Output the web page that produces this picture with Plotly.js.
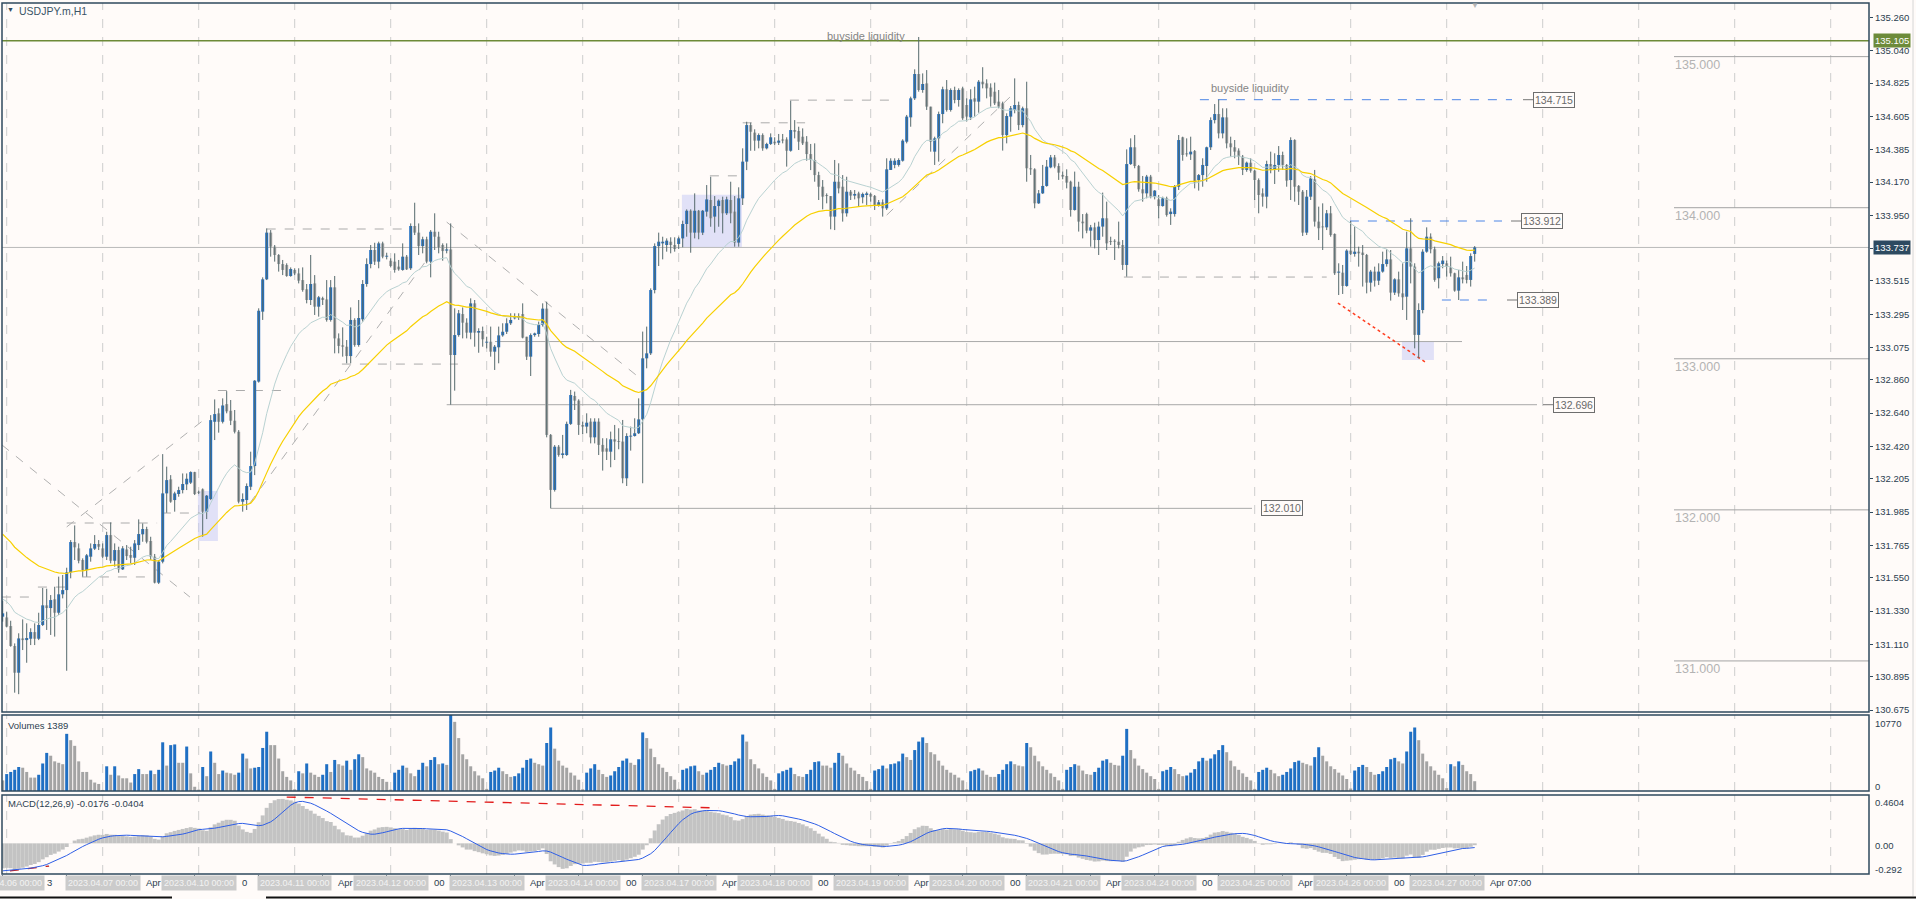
<!DOCTYPE html>
<html><head><meta charset="utf-8">
<script src="https://cdn.plot.ly/plotly-3.0.1.min.js"></script>
<style>html,body{margin:0;padding:0;background:#fffbf9;overflow:hidden}#chart{width:1916px;height:899px}</style>
</head><body><div id="chart"></div>
<script>
// ---------- DATA (USDJPY.m H1) ----------
const opens = [
131.293,131.288,131.231,131.099,130.922,131.149,131.138,131.147,131.191,131.147,131.238,131.368,
131.350,131.408,131.319,131.441,131.469,131.586,131.787,131.745,131.668,131.602,131.690,131.743,
131.774,131.745,131.690,131.833,131.663,131.734,131.606,131.738,131.701,131.683,131.767,131.838,
131.873,131.794,131.690,131.518,131.657,132.109,132.202,132.065,132.105,132.131,132.169,132.180,
132.250,132.118,132.136,131.988,132.072,132.583,132.639,132.583,132.700,132.656,132.590,132.517,
132.054,132.065,132.153,132.290,132.849,133.312,133.526,133.835,133.742,133.687,133.627,133.621,
133.548,133.588,133.565,133.521,133.460,133.389,133.499,133.345,133.402,133.393,133.257,133.473,
133.135,133.089,133.080,133.018,133.257,133.091,133.261,133.495,133.627,133.720,133.643,133.764,
133.676,133.649,133.643,133.610,133.588,133.676,133.599,133.879,133.835,133.746,133.791,133.643,
133.841,133.808,133.753,133.716,133.724,133.025,133.157,133.296,133.239,133.173,133.367,133.173,
133.184,133.107,133.113,133.047,133.076,133.155,133.179,133.235,133.268,133.272,133.296,133.146,
133.014,133.157,133.164,133.224,133.332,132.496,132.132,132.418,132.363,132.363,132.569,132.754,
132.723,132.562,132.551,132.584,132.480,132.584,132.430,132.407,132.385,132.467,132.452,132.452,
132.209,132.485,132.489,132.507,132.599,133.003,133.036,133.455,133.746,133.764,133.753,133.775,
133.753,133.760,133.797,133.892,133.980,133.835,133.980,133.835,133.974,134.051,133.941,134.011,
134.051,133.963,134.051,133.974,133.769,134.062,134.305,134.547,134.497,134.444,134.481,134.393,
134.422,134.437,134.430,134.452,134.452,134.377,134.514,134.508,134.470,134.437,134.355,134.316,
134.216,134.139,134.084,134.077,133.941,134.172,134.139,133.963,134.106,134.080,134.095,134.069,
134.084,134.091,134.078,134.018,134.036,133.996,134.250,134.283,134.283,134.311,134.437,134.598,
134.724,134.885,134.779,134.823,134.669,134.371,134.459,134.620,134.784,134.647,134.779,134.713,
134.790,134.680,134.598,134.724,134.702,134.834,134.823,134.795,134.768,134.702,134.691,134.481,
134.603,134.647,134.680,134.547,134.658,134.261,134.254,134.029,134.095,134.144,134.267,134.333,
134.276,134.217,134.210,134.172,133.985,134.139,133.908,133.958,133.848,133.870,133.786,133.875,
133.930,133.775,133.778,133.775,133.753,133.621,134.289,134.400,134.276,134.122,134.095,134.206,
134.073,134.055,134.011,134.062,133.958,133.958,134.139,134.466,134.360,134.353,134.375,134.183,
134.216,134.276,134.400,134.580,134.620,134.492,134.598,134.426,134.400,134.378,134.338,134.250,
134.298,134.245,134.183,134.095,134.073,134.289,134.250,134.283,134.349,134.283,134.183,134.448,
134.144,134.106,133.835,134.073,134.188,133.908,133.875,133.870,133.963,133.826,133.570,133.570,
133.482,133.716,133.694,133.709,133.703,133.687,133.504,133.577,133.517,133.577,133.627,133.658,
133.438,133.526,133.433,133.411,133.731,133.610,133.158,133.323,133.709,133.808,133.725,133.533,
133.627,133.632,133.605,133.566,133.451,133.539,133.555,133.522,133.694];
const highs = [
131.399,131.326,131.266,131.116,131.183,131.275,131.249,131.216,131.249,131.319,131.483,131.478,
131.436,131.491,131.558,131.569,131.617,131.800,131.897,131.778,131.679,131.708,131.778,131.833,
131.800,131.778,131.855,131.917,131.778,131.756,131.760,131.767,131.756,131.800,131.937,131.910,
131.888,131.822,131.708,131.668,132.369,132.286,132.230,132.120,132.153,132.241,132.241,132.255,
132.252,132.127,132.142,132.098,132.627,132.731,132.672,132.738,132.786,132.727,132.661,132.528,
132.109,132.175,132.385,132.859,133.334,133.539,133.863,133.852,133.753,133.693,133.654,133.632,
133.605,133.599,133.599,133.605,133.495,133.687,133.554,133.416,133.411,133.521,133.521,133.548,
133.168,133.208,133.124,133.340,133.268,133.389,133.521,133.665,133.753,133.768,133.775,133.775,
133.702,133.665,133.698,133.654,133.764,133.687,133.896,134.033,133.896,133.808,133.808,133.852,
133.963,133.841,133.764,133.764,133.896,133.334,133.323,133.340,133.268,133.400,133.389,133.202,
133.213,133.146,133.213,133.091,133.213,133.235,133.268,133.301,133.301,133.301,133.367,133.146,
133.168,133.173,133.246,133.367,133.378,132.502,132.429,132.429,132.496,132.584,132.794,132.783,
132.732,132.584,132.639,132.606,132.606,132.606,132.474,132.474,132.518,132.562,132.540,132.595,
132.507,132.551,132.606,132.738,133.180,133.213,133.466,133.764,133.835,133.808,133.797,133.804,
133.804,133.808,133.914,133.989,133.989,134.095,133.985,133.985,134.150,134.205,134.077,134.055,
134.073,134.073,134.172,134.077,134.135,134.393,134.569,134.563,134.519,134.492,134.492,134.430,
134.492,134.466,134.488,134.488,134.466,134.708,134.580,134.536,134.525,134.474,134.422,134.426,
134.238,134.183,134.095,134.077,134.316,134.294,134.216,134.205,134.117,134.117,134.106,134.100,
134.106,134.100,134.084,134.051,134.055,134.327,134.327,134.327,134.327,134.453,134.614,134.735,
134.916,135.130,134.889,134.911,134.669,134.470,134.636,134.801,134.845,134.790,134.801,134.790,
134.801,134.724,134.784,134.801,134.845,134.930,134.850,134.823,134.828,134.779,134.702,134.625,
134.673,134.856,134.702,134.669,134.834,134.349,134.261,134.117,134.283,134.316,134.349,134.349,
134.294,134.239,134.254,134.179,134.239,134.172,133.958,133.967,133.886,133.901,133.908,134.100,
134.040,133.808,133.791,133.908,133.786,134.386,134.459,134.481,134.283,134.210,134.217,134.217,
134.117,134.084,134.073,134.073,133.996,134.150,134.481,134.470,134.459,134.470,134.382,134.223,
134.327,134.404,134.598,134.686,134.715,134.658,134.658,134.470,134.448,134.393,134.349,134.305,
134.327,134.250,134.194,134.128,134.311,134.371,134.360,134.408,134.371,134.289,134.466,134.453,
134.150,134.117,134.117,134.210,134.250,134.007,134.029,133.985,134.011,133.830,133.632,133.621,
133.725,133.912,133.875,133.742,133.753,133.694,133.588,133.610,133.632,133.709,133.725,133.720,
133.533,133.577,133.632,133.841,133.930,133.632,133.367,133.725,133.870,133.830,133.742,133.643,
133.680,133.650,133.676,133.570,133.588,133.643,133.614,133.698,133.746];
const lows = [
131.260,131.222,131.094,130.790,130.780,131.072,130.988,131.105,131.105,131.138,131.231,131.205,
131.172,131.161,131.304,131.414,130.935,131.547,131.668,131.646,131.558,131.558,131.657,131.734,
131.734,131.679,131.668,131.646,131.624,131.584,131.602,131.668,131.646,131.635,131.734,131.789,
131.778,131.668,131.513,131.509,131.646,131.981,132.047,131.988,132.087,132.109,132.131,132.171,
132.098,132.105,131.822,131.939,132.065,132.462,132.511,132.572,132.639,132.561,132.506,132.043,
131.988,131.999,132.131,132.230,132.842,133.257,133.521,133.676,133.643,133.577,133.554,133.543,
133.543,133.554,133.499,133.444,133.367,133.356,133.290,133.279,133.356,133.246,133.246,133.036,
133.036,133.014,132.970,132.970,133.080,133.080,133.246,133.477,133.599,133.621,133.599,133.665,
133.658,133.605,133.570,133.583,133.583,133.588,133.588,133.819,133.687,133.698,133.632,133.539,
133.720,133.698,133.649,133.698,132.696,132.789,133.146,133.135,133.135,133.129,133.080,133.040,
133.080,133.069,133.014,132.926,132.970,133.146,133.164,133.224,133.261,133.257,133.135,132.992,
132.886,133.146,133.146,133.213,132.480,132.010,132.121,132.352,132.341,132.357,132.562,132.661,
132.496,132.502,132.507,132.440,132.440,132.363,132.260,132.330,132.282,132.330,132.401,132.176,
132.158,132.392,132.485,132.502,132.176,132.937,133.025,133.433,133.614,133.658,133.709,133.698,
133.709,133.727,133.738,133.808,133.702,133.797,133.791,133.819,133.941,133.874,133.835,133.874,
133.830,133.952,133.897,133.742,133.742,134.018,134.249,134.377,134.377,134.393,134.377,134.386,
134.415,134.415,134.415,134.426,134.272,134.371,134.459,134.382,134.415,134.311,134.249,134.172,
134.051,133.989,134.029,133.857,133.852,134.095,133.908,133.941,134.051,134.055,134.011,134.029,
134.018,134.040,133.985,134.007,133.941,133.985,134.250,134.261,134.272,134.305,134.426,134.536,
134.713,134.768,134.761,134.647,134.371,134.283,134.305,134.559,134.636,134.636,134.691,134.669,
134.581,134.570,134.581,134.603,134.629,134.790,134.724,134.669,134.680,134.658,134.378,134.426,
134.503,134.625,134.514,134.532,134.172,134.217,133.996,134.025,134.091,134.139,134.261,134.261,
134.184,134.188,134.128,133.941,133.981,133.842,133.797,133.831,133.742,133.731,133.687,133.808,
133.720,133.753,133.654,133.731,133.588,133.544,134.283,134.261,134.106,134.040,134.062,134.062,
134.055,133.930,134.007,133.941,133.886,133.941,134.117,134.311,134.338,134.316,134.128,134.113,
134.139,134.172,134.382,134.558,134.459,134.459,134.393,134.338,134.327,134.283,134.216,134.238,
134.232,134.051,133.963,134.007,133.996,134.228,134.157,134.238,134.250,134.139,134.051,134.040,
134.018,133.813,133.819,134.051,133.875,133.786,133.720,133.852,133.808,133.555,133.422,133.429,
133.477,133.687,133.676,133.610,133.478,133.433,133.444,133.478,133.488,133.570,133.610,133.385,
133.422,133.411,133.323,133.257,133.499,133.069,133.003,133.301,133.702,133.698,133.510,133.466,
133.599,133.544,133.544,133.444,133.389,133.499,133.499,133.478,133.643];
const closes = [
131.315,131.227,131.099,130.922,131.149,131.138,131.152,131.191,131.147,131.238,131.368,131.350,
131.403,131.319,131.441,131.469,131.586,131.787,131.752,131.663,131.602,131.699,131.745,131.774,
131.756,131.690,131.833,131.663,131.734,131.606,131.745,131.694,131.683,131.778,131.840,131.873,
131.789,131.690,131.518,131.657,132.109,132.197,132.054,132.109,132.131,132.171,132.206,132.250,
132.105,132.113,131.988,132.094,132.594,132.634,132.583,132.691,132.652,132.590,132.517,132.054,
132.072,132.158,132.290,132.855,133.318,133.526,133.835,133.742,133.687,133.627,133.588,133.548,
133.594,133.565,133.517,133.455,133.389,133.495,133.345,133.407,133.389,133.257,133.473,133.135,
133.085,133.080,133.018,133.257,133.091,133.270,133.495,133.627,133.720,133.643,133.764,133.676,
133.680,133.614,133.588,133.592,133.676,133.592,133.879,133.835,133.746,133.791,133.643,133.841,
133.808,133.738,133.713,133.724,133.025,133.157,133.301,133.239,133.173,133.367,133.173,133.184,
133.129,133.113,133.047,133.080,133.155,133.179,133.235,133.257,133.274,133.283,133.140,133.014,
133.157,133.168,133.224,133.332,132.496,132.132,132.418,132.363,132.374,132.569,132.760,132.723,
132.562,132.551,132.577,132.480,132.584,132.430,132.385,132.385,132.467,132.452,132.449,132.209,
132.489,132.489,132.507,132.599,133.003,133.036,133.455,133.746,133.775,133.775,133.782,133.753,
133.727,133.797,133.892,133.980,133.835,133.980,133.835,133.980,134.055,133.930,134.011,134.047,
133.963,134.055,133.963,133.769,134.062,134.305,134.547,134.503,134.444,134.481,134.393,134.422,
134.466,134.426,134.444,134.444,134.377,134.514,134.503,134.437,134.426,134.355,134.316,134.216,
134.139,134.073,134.077,133.941,134.172,134.128,133.963,134.106,134.080,134.091,134.062,134.091,
134.095,134.073,134.018,134.036,133.996,134.254,134.311,134.311,134.316,134.444,134.603,134.724,
134.885,134.779,134.819,134.669,134.437,134.459,134.620,134.784,134.647,134.779,134.713,134.779,
134.592,134.603,134.717,134.702,134.834,134.817,134.790,134.735,134.691,134.669,134.481,134.607,
134.658,134.680,134.547,134.658,134.261,134.254,134.029,134.095,134.144,134.272,134.333,134.272,
134.232,134.206,134.166,133.985,134.139,133.908,133.897,133.848,133.870,133.786,133.875,133.930,
133.764,133.773,133.775,133.753,133.621,134.289,134.400,134.276,134.122,134.095,134.206,134.073,
134.113,134.011,134.062,133.952,133.974,134.139,134.448,134.349,134.353,134.371,134.166,134.216,
134.283,134.400,134.580,134.620,134.492,134.598,134.426,134.400,134.371,134.338,134.250,134.298,
134.245,134.183,134.084,134.073,134.289,134.250,134.283,134.349,134.283,134.179,134.448,134.139,
134.106,133.835,134.073,134.194,133.908,133.864,133.870,133.963,133.819,133.566,133.577,133.482,
133.716,133.694,133.709,133.698,133.687,133.504,133.577,133.517,133.577,133.627,133.658,133.438,
133.526,133.433,133.407,133.731,133.610,133.158,133.323,133.709,133.808,133.725,133.522,133.632,
133.650,133.610,133.566,133.451,133.539,133.526,133.522,133.680,133.737];
const volumes = [
1500,
2400,2700,3000,3400,3300,2700,1900,1900,2300,3900,5400,5000,4200,4000,3800,8100,7200,6400,4200,2700,2700,1600,1200,1000,
150,3500,2300,3500,2200,1800,1800,1200,2400,3100,2400,2400,2900,2400,3000,6900,3600,6500,6600,4000,4000,6300,2500,600,
200,3400,2100,5600,4000,2400,2900,2600,2500,2300,2600,5300,4600,3200,3300,3400,6100,8400,6500,6500,4600,2800,2000,1500,
250,2800,2500,3900,2600,2300,2000,2300,3800,2700,4400,3800,3600,4300,3000,4500,5200,4800,3200,2900,2600,2000,1700,1300,
200,2600,3000,3600,3300,2500,2100,3000,4000,3500,4400,4800,3800,3900,3700,10770,9800,7500,5200,4500,3500,2800,2200,1800,
300,2700,2900,3300,2800,2400,2000,2100,2500,3300,4400,4600,4000,3800,3600,6800,9000,6000,4300,3600,3300,2600,2200,1600,
250,2600,3200,3800,3000,2400,2000,2200,2800,3400,4300,4600,4000,3700,4500,8300,7500,6000,4800,3800,3300,2700,2100,1600,
300,3000,3200,3500,3600,2800,2300,2600,3000,3400,4000,3800,3600,3700,4200,4600,8000,7000,4500,3800,3200,2500,2000,1500,
300,2500,2800,3000,3300,2400,2100,2000,2400,3000,4100,4200,3600,3600,3300,4000,5400,5000,3900,3300,2900,2400,2000,1400,
300,2900,3100,3600,3200,3800,3900,4200,5300,4800,4400,5800,7000,7600,6800,5500,5200,4300,3600,3000,2600,2300,1900,1500,
250,2800,3000,3200,2900,2300,2000,2000,2400,3000,3800,4200,3800,3600,3500,6800,6200,5000,4200,3500,3000,2500,2000,1500,
300,3000,3400,3800,3600,2900,2400,2300,2700,3300,4300,4500,4000,3700,3600,5000,8800,5800,4600,3600,3100,2600,2100,1700,
300,2800,3000,3400,3100,2400,2100,2200,2600,3100,4200,4700,4300,4600,5200,5800,6500,5500,4300,3500,3000,2500,2000,1500,
300,2700,3000,3300,3000,2500,2100,2300,2700,3200,4100,4300,4000,3800,3600,4800,6200,5000,4200,3500,3100,2600,2200,1700,
350,2900,3400,3700,3400,2700,2300,2400,2800,3400,4500,4700,4200,3900,5600,8400,9000,7200,5300,4200,3500,2900,2300,1800,
400,3800,3500,4200,3700,2800,2400,1389];
const priceTicks = [135.260,135.040,134.825,134.605,134.385,134.170,133.950,133.730,133.515,133.295,133.075,
  132.860,132.640,132.420,132.205,131.985,131.765,131.550,131.330,131.110,130.895,130.675];
const dayLabels = ['2023.04.06 00:00','2023.04.07 00:00','2023.04.10 00:00','2023.04.11 00:00','2023.04.12 00:00',
  '2023.04.13 00:00','2023.04.14 00:00','2023.04.17 00:00','2023.04.18 00:00','2023.04.19 00:00','2023.04.20 00:00',
  '2023.04.21 00:00','2023.04.24 00:00','2023.04.25 00:00','2023.04.26 00:00','2023.04.27 00:00'];
// parts of the terminal's own time labels that show between the date boxes
const axisFragments = ['3','Apr','0','Apr','00','Apr','00','Apr','00','Apr','00','Apr','00','Apr','00','Apr 07:00'];
const roundLevels = [135, 134, 133, 132, 131];
const alertLevel = 135.105;
const maFastSeed = 131.42, maSlowSeed = 131.86;           // indicator values at the left edge
const macdFastSeed = 131.40, macdSlowSeed = 131.65, macdSignalSeed = -0.265;
// marked levels: [fromBar, price, label]
const liquidityLevels = [[299.3, 134.715, '134.715'], [336.8, 133.912, '133.912'], [359.8, 133.389, '133.389']];
const swingLevels = [[-0.2,7.6,131.423],[8.8,16.3,131.489],[16,38.6,131.913],[19.8,37.6,131.556],[39.8,49.3,131.979],
  [53.8,69.8,132.790],[66,99.8,133.859],[84.8,113.8,132.965],[176.8,184.8,134.211],[185,200.6,134.562],
  [196.8,223,134.712],[280.3,331,133.541]];
const trendLines = [[-0.2,132.430,46.8,131.423],[16,131.887,50.6,132.602],[61.8,132.045,105.6,133.640],
  [111,133.905,159.3,132.872],[221,133.951,251.8,134.732]];
const zones = [[48.8,53.8,132.125,131.794],[169.8,184.8,134.085,133.740],[349.8,357.8,133.111,132.992]];

// ---------- BUILD ----------
const BG = '#fffbf9', AX = '#2f4a5e', FONT = 'Liberation Sans, Arial, sans-serif';
const BLUE = '#1f6fc3', GREY = '#a4a4a4';
const N = closes.length, idx = closes.map((_, i) => i), last = N - 1;
const px = X => (X - 2) / 1867, py = Y => (875 - Y) / 872;
const bi = X => (X - 2.7) / 4;

function ema(src, p, seed) { const k = 2 / (p + 1); let e = seed; return src.map(v => (e += k * (v - e))); }
function smaSeeded(src, p, seed) { const b = Array(p - 1).fill(seed); return src.map(v => { b.push(v); if (b.length > p) b.shift(); return b.reduce((a, c) => a + c, 0) / p; }); }

const maFast = ema(closes, 20, maFastSeed), maSlow = ema(closes, 50, maSlowSeed);
const e12 = ema(closes, 12, macdFastSeed), e26 = ema(closes, 26, macdSlowSeed);
const macdMain = e12.map((v, i) => v - e26[i]);
const macdSignal = smaSeeded(macdMain, 9, macdSignalSeed);

const wx = [], wy = [];
idx.forEach(i => { wx.push(i, i, null); wy.push(Math.min(lows[i], opens[i], closes[i]), Math.max(highs[i], opens[i], closes[i]), null); });
const bodyBase = idx.map(i => Math.min(opens[i], closes[i]));
const bodyH = idx.map(i => Math.max(Math.abs(closes[i] - opens[i]), 0.006));
const bodyCol = idx.map(i => closes[i] > opens[i] ? BLUE : GREY);
const volCol = idx.map(i => (i > 0 && volumes[i] > volumes[i - 1]) ? BLUE : GREY);

const traces = [
  {type:'scatter', mode:'lines', x:wx, y:wy, line:{color:'#56696d', width:1}, hoverinfo:'skip'},
  {type:'bar', x:idx, y:bodyH, base:bodyBase, width:0.75, marker:{color:bodyCol, line:{width:0}}, hoverinfo:'skip'},
  {type:'scatter', mode:'lines', x:idx, y:maFast, line:{color:'#b9d2d2', width:1}, hoverinfo:'skip'},
  {type:'scatter', mode:'lines', x:idx, y:maSlow, line:{color:'#f7d000', width:1.2}, hoverinfo:'skip'},
  {type:'bar', x:idx, y:volumes, yaxis:'y2', width:0.75, marker:{color:volCol, line:{width:0}}, hoverinfo:'skip'},
  {type:'bar', x:idx, y:macdMain, yaxis:'y3', width:1, marker:{color:'#c3c3c3', line:{width:0}}, hoverinfo:'skip'},
  {type:'scatter', mode:'lines', x:idx, y:macdSignal, yaxis:'y3', line:{color:'#2f5fe6', width:1}, hoverinfo:'skip'}
];

const dom = [[0.18693, 1], [0.09633, 0.18349], [0.00115, 0.09174]];
const shapes = [];
for (let g = 1; g <= 466; g += 24) dom.forEach(d => shapes.push({type:'line', xref:'x', yref:'paper', x0:g, x1:g, y0:d[0], y1:d[1], layer:'below', line:{color:'#cdcdcd', width:1, dash:'dash'}}));
const L = (x0, y0, x1, y1, color, width, dash, yref) => shapes.push({type:'line', xref:'x', yref:yref || 'y', x0, y0, x1, y1, layer:'below', line:{color, width, dash: dash || 'solid'}});
zones.forEach(z => shapes.push({type:'rect', xref:'x', yref:'y', x0:z[0], x1:z[1], y0:z[2], y1:z[3], layer:'below', fillcolor:'rgba(196,200,246,0.5)', line:{width:0}}));
L(-0.2, alertLevel, 466.6, alertLevel, '#6d8a38', 1.5);
L(-0.2, closes[last], 466.6, closes[last], '#b9b9b9', 1);
roundLevels.forEach(v => L(bi(1674), v, 466.6, v, '#a3a3a3', 1));
swingLevels.forEach(s => L(s[0], s[2], s[1], s[2], '#ababab', 1, 'dash'));
trendLines.forEach(t => L(t[0], t[1], t[2], t[3], '#b0b0b0', 1, 'dash'));
L(bi(495), 133.114, bi(1462), 133.114, '#a9a9a9', 1);
L(111, lows[112], bi(1537), lows[112], '#a9a9a9', 1);
L(bi(1543), lows[112], bi(1553), lows[112], '#777', 1);
L(137, lows[137], bi(1252), lows[137], '#a9a9a9', 1);
const liqEnd = [bi(1512), bi(1502), bi(1495)], shortL = [[1523,1533],[1511,1522],[1507,1517]];
liquidityLevels.forEach((l, k) => { L(l[0], l[1], liqEnd[k], l[1], '#4d86e6', 1, 'dash'); L(bi(shortL[k][0]), l[1], bi(shortL[k][1]), l[1], '#777', 1); });
L(333.8, 133.369, 356, 132.972, '#ff3d1f', 1.5, 'dot');
L(71, 0.441, 179, 0.337, '#e21c1c', 1.3, 'dash', 'y3');
L(1.8, -0.263, 11.6, -0.216, '#c01818', 1.3, 'dash', 'y3');
dom.forEach(d => shapes.push({type:'rect', xref:'paper', yref:'paper', x0:0, x1:1, y0:d[0], y1:d[1], layer:'above', line:{color:AX, width:1.5}}));
shapes.push({type:'line', xref:'paper', yref:'paper', x0:px(1913), x1:px(1913), y0:py(0), y1:py(896), line:{color:'#d6d6d6', width:1}});
shapes.push({type:'line', xref:'paper', yref:'paper', x0:px(0), x1:px(172), y0:py(897.5), y1:py(897.5), line:{color:'#111', width:2}});
shapes.push({type:'line', xref:'paper', yref:'paper', x0:px(266), x1:px(1916), y0:py(897.5), y1:py(897.5), line:{color:'#111', width:2}});

const ann = [];
const A = o => ann.push(Object.assign({showarrow:false, yanchor:'middle', font:{family:FONT, size:10, color:'#2c3e50'}}, o));
A({xref:'paper', yref:'paper', x:px(5), y:py(10), xanchor:'left', text:'▼', font:{family:FONT, size:7, color:'#2f4a5e'}});
A({xref:'paper', yref:'paper', x:px(17), y:py(11), xanchor:'left', text:'USDJPY.m,H1', font:{family:FONT, size:10.5, color:'#3a5466'}});
A({xref:'x', yref:'paper', x:368, y:py(5), xanchor:'center', text:'▼', font:{family:FONT, size:8, color:'#b5b5b5'}});
A({xref:'x', yref:'y', x:bi(866), y:135.136, xanchor:'center', text:'buyside liquidity', font:{family:FONT, size:11, color:'#858585'}});
A({xref:'x', yref:'y', x:bi(1250), y:134.792, xanchor:'center', text:'buyside liquidity', font:{family:FONT, size:11, color:'#858585'}});
roundLevels.forEach(v => A({xref:'x', yref:'y', x:bi(1673), y:v, yshift:-8, xanchor:'left', text:v.toFixed(3), font:{family:FONT, size:12.5, color:'#b3b3b3'}}));
const boxAt = (X, price, t) => A({xref:'x', yref:'y', x:bi(X), y:price, xanchor:'center', text:t, bgcolor:BG, bordercolor:'#6e6e6e', borderwidth:1, borderpad:1, font:{family:FONT, size:10.5, color:'#6a6a6a'}});
boxAt(1554, liquidityLevels[0][1], liquidityLevels[0][2]);
boxAt(1542, liquidityLevels[1][1], liquidityLevels[1][2]);
boxAt(1537.5, liquidityLevels[2][1], liquidityLevels[2][2]);
boxAt(1574, lows[112], lows[112].toFixed(3));
boxAt(1282, lows[137], lows[137].toFixed(3));
A({xref:'paper', yref:'y', x:px(1891.5), y:alertLevel, xanchor:'center', text:alertLevel.toFixed(3), bgcolor:'#6d8b3a', borderpad:1, font:{family:FONT, size:9.5, color:'#ffffff'}});
A({xref:'paper', yref:'y', x:px(1891.5), y:closes[last], xanchor:'center', text:closes[last].toFixed(3), bgcolor:'#2d4a61', borderpad:1, font:{family:FONT, size:9.5, color:'#ffffff'}});
A({xref:'paper', yref:'paper', x:px(6), y:py(725), xanchor:'left', text:'Volumes ' + volumes[last], font:{family:FONT, size:9.5, color:'#2c3e50'}});
A({xref:'paper', yref:'paper', x:px(6), y:py(803), xanchor:'left', text:'MACD(12,26,9) -0.0176 -0.0404', font:{family:FONT, size:9.5, color:'#2c3e50'}});
[['10770',723],['0',786],['0.4604',802],['0.00',845],['-0.292',869]].forEach(t => A({xref:'paper', yref:'paper', x:px(1873), y:py(t[1]), xanchor:'left', text:t[0], font:{family:FONT, size:9.5, color:'#2c3e50'}}));
const TY = py(882.5);
axisFragments.forEach((t, k) => A({xref:'x', yref:'paper', x:1 + 24 * k, xshift:k === 0 ? 38 : 41, y:TY, xanchor:'left', text:t, font:{family:FONT, size:9.5, color:'#2c3e50'}}));
dayLabels.forEach((t, k) => A({xref:'x', yref:'paper', x:1 + 24 * k, y:TY, xanchor:'center', text:t, bgcolor:'#cbcbcb', borderpad:2, font:{family:FONT, size:9, color:'#f3f3f3'}}));

const layout = {
  width:1916, height:899, margin:{l:2, r:47, t:3, b:24, pad:0},
  paper_bgcolor:BG, plot_bgcolor:BG, showlegend:false, barmode:'overlay', hovermode:false,
  xaxis:{range:[-0.175, 466.575], anchor:'y3', showgrid:false, zeroline:false, showline:false, tickmode:'array',
    tickvals:Array.from({length:24}, (_, k) => 16 * k), ticks:'outside', ticklen:4, tickcolor:AX, showticklabels:false, fixedrange:true},
  yaxis:{domain:dom[0], range:[130.662, 135.355], side:'right', tickmode:'array', tickvals:priceTicks,
    ticktext:priceTicks.map(v => v.toFixed(3)), ticks:'outside', ticklen:3, tickcolor:AX,
    tickfont:{family:FONT, size:9.5, color:'#2c3e50'}, showgrid:false, zeroline:false, showline:false, fixedrange:true},
  yaxis2:{domain:dom[1], range:[0, 10770], showticklabels:false, showgrid:false, zeroline:false, fixedrange:true},
  yaxis3:{domain:dom[2], range:[-0.292, 0.4604], showticklabels:false, showgrid:false, zeroline:false, fixedrange:true},
  shapes, annotations:ann
};
Plotly.newPlot('chart', traces, layout, {staticPlot:true, displayModeBar:false});
</script></body></html>
